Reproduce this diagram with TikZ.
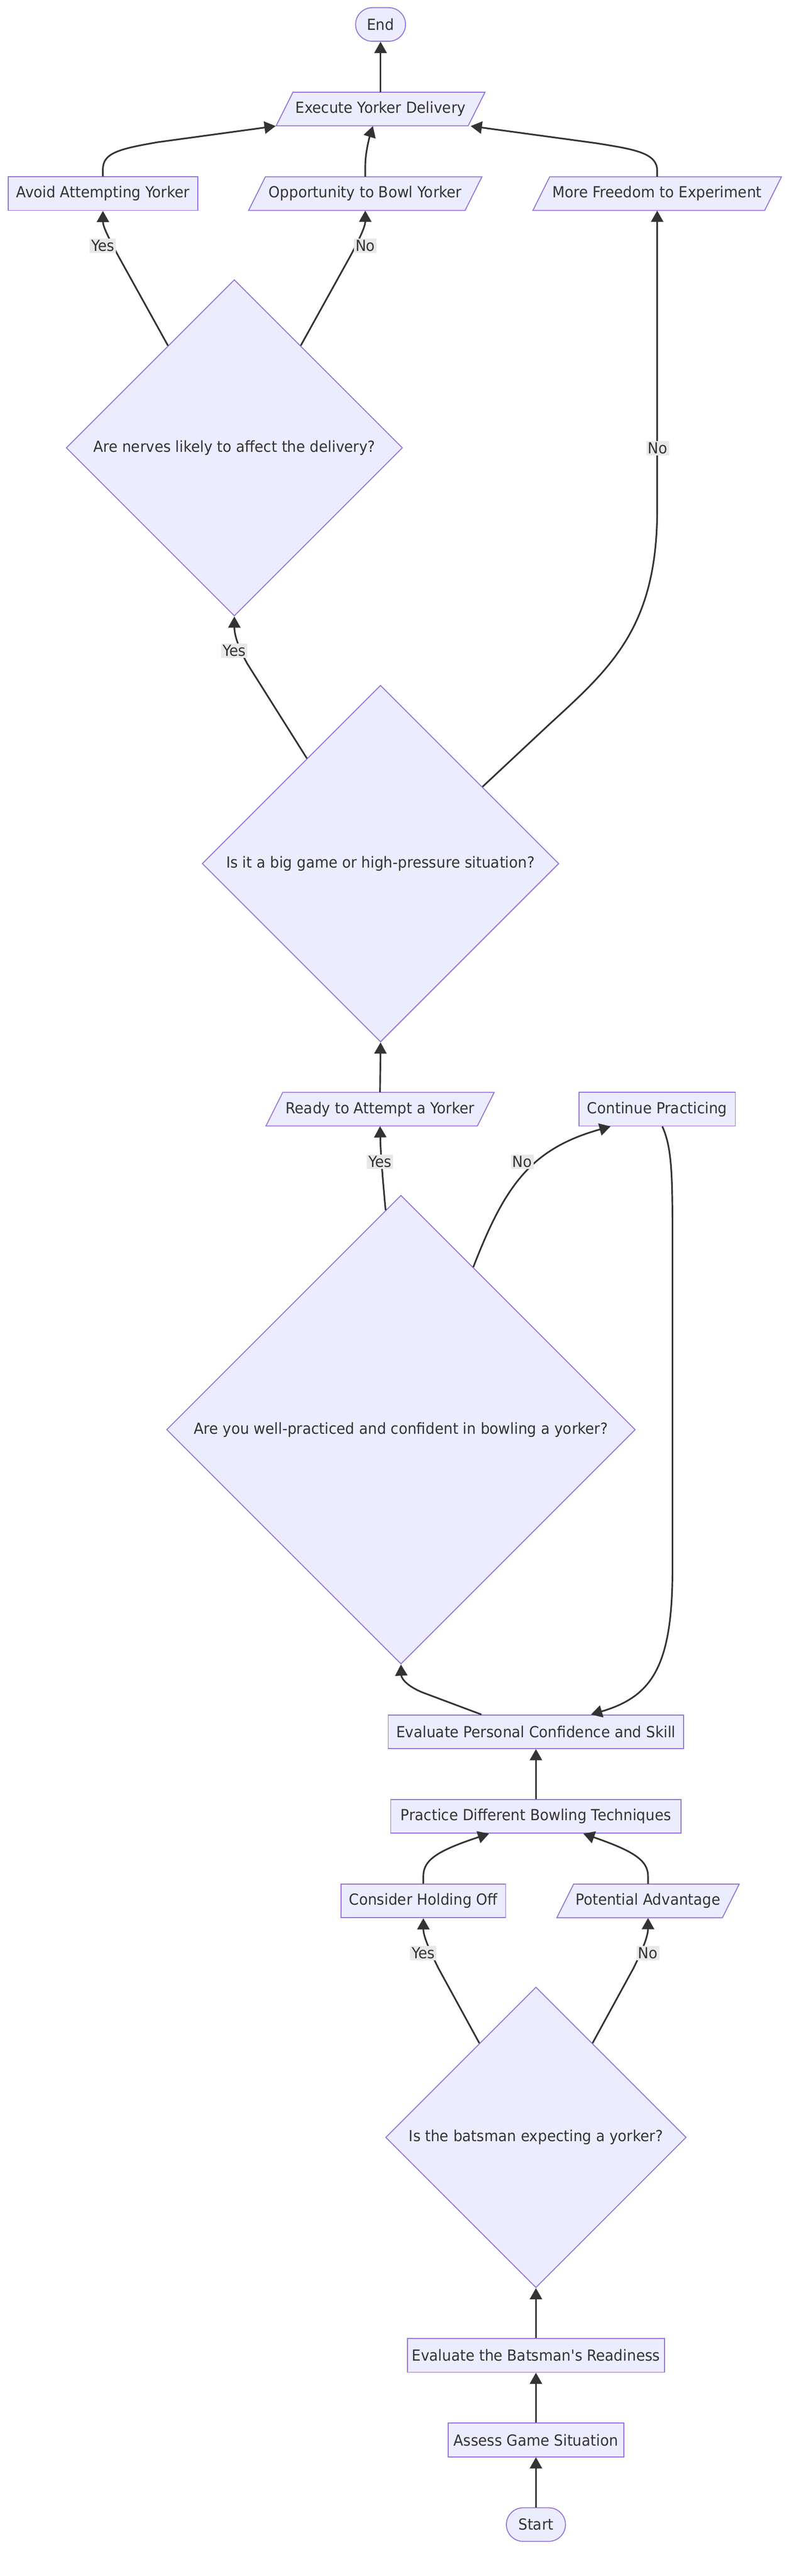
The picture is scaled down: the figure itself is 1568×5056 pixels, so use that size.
\documentclass[tikz,border=0pt]{standalone}
\usepackage{fontspec}
\setmainfont{DejaVu Sans}[Ligatures=TeXOff, FakeStretch=0.94]
\usetikzlibrary{shapes.geometric,arrows.meta,calc}
\definecolor{nfill}{HTML}{ECECFF}
\definecolor{nline}{HTML}{9370DB}
\definecolor{eline}{HTML}{333333}
\definecolor{lblbg}{HTML}{E8E8E8}
\definecolor{txt}{HTML}{333333}
\tikzset{
  box/.style={rectangle, draw=nline, fill=nfill, line width=0.9pt, minimum height=33pt, inner sep=0pt},
  stad/.style={box, rounded corners=16.5pt},
  dia/.style={diamond, aspect=1, draw=nline, fill=nfill, line width=0.9pt, inner sep=0pt},
  paratext/.style={rectangle, inner sep=0pt, minimum height=33pt},
  parashape/.style={draw=nline, fill=nfill, line width=0.9pt},
  arr/.style={draw=eline, line width=1.6pt, -{Triangle[length=11pt,width=12pt]}},
  lbl/.style={fill=lblbg, inner sep=1.5pt, text=txt}
}
\newcommand\paranode[5]{%
  \draw[parashape] (#2-#4+16.5,#3-33) -- (#2+#4+16.5,#3-33) -- (#2+#4-16.5,#3+33) -- (#2-#4-16.5,#3+33) -- cycle;
  \node[paratext, minimum width=#4*1pt] (#1) at (#2,#3) {#5};
}
\begin{document}
\begin{tikzpicture}[x=0.5pt, y=-0.5pt, font=\fontsize{15pt}{18pt}\selectfont, text=txt]
\useasboundingbox (0,0) rectangle (1568,5056);
\fill[white] (0,0) rectangle (1568,5056);

% nodes
\node[stad, minimum width=49pt] (end) at (747,48) {End};
\paranode{exec}{747}{214}{188.5}{Execute Yorker Delivery}
\node[box, minimum width=186pt] (avoid) at (202,380) {Avoid Attempting Yorker};
\paranode{opp}{717}{380}{212.5}{Opportunity to Bowl Yorker}
\paranode{more}{1290}{380}{227.5}{More Freedom to Experiment}
\node[dia, minimum size=330pt] (nerves) at (460,879) {Are nerves likely to affect the delivery?};
\node[dia, minimum size=350pt] (big) at (747,1695) {Is it a big game or high-pressure situation?};
\paranode{ready}{746}{2177}{207.5}{Ready to Attempt a Yorker}
\node[box, minimum width=153.5pt] (cont) at (1290,2177) {Continue Practicing};
\node[dia, minimum size=460pt] (well) at (787,2806) {Are you well-practiced and confident in bowling a yorker?};
\node[box, minimum width=290pt] (evalP) at (1052,3399) {Evaluate Personal Confidence and Skill};
\node[box, minimum width=285pt] (prac) at (1052,3565) {Practice Different Bowling Techniques};
\node[box, minimum width=161.5pt] (cons) at (831,3731) {Consider Holding Off};
\paranode{pot}{1272}{3731}{162.5}{Potential Advantage}
\node[dia, minimum size=295pt] (bats) at (1052,4195) {Is the batsman expecting a yorker?};
\node[box, minimum width=252.5pt] (evalB) at (1052,4623) {Evaluate the Batsman's Readiness};
\node[box, minimum width=172.5pt] (assess) at (1052,4789) {Assess Game Situation};
\node[stad, minimum width=58pt] (start) at (1052,4955) {Start};

% connectors
\draw[arr] (start.north) -- (assess.south);
\draw[arr] (assess.north) -- (evalB.south);
\draw[arr] (evalB.north) -- (bats.south);
\draw[arr] (bats.121) -- (860,3862) .. controls (842,3825) and (831,3800) .. (cons.south);
\draw[arr] (bats.59) -- (1244,3862) .. controls (1262,3825) and (1272,3800) .. (pot.south);
\draw[arr] (cons.north) -- (831,3682) .. controls (831,3650) and (860,3632) .. ($(prac.south)+(-92,0)$);
\draw[arr] (pot.north) -- (1272,3682) .. controls (1272,3650) and (1240,3632) .. ($(prac.south)+(93,0)$);
\draw[arr] (prac.north) -- (evalP.south);
\draw[arr] ($(evalP.north)+(-107,0)$) -- (830,3322) .. controls (800,3310) and (788,3295) .. (well.south);
\draw[arr] (well.94) .. controls (750,2300) and (747,2260) .. (ready.south);
\draw[arr] (well.66) .. controls (990,2330) and (1040,2255) .. ($(cont.south west)+(63,0)$);
\draw[arr] ($(cont.south)+(10,0)$) .. controls (1318,2250) and (1320,2300) .. (1320,2420) -- (1320,3080) .. controls (1320,3270) and (1280,3330) .. ($(evalP.north)+(108,0)$);
\draw[arr] (ready.north) -- (big.south);
\draw[arr] (big.125) -- (485,1302) .. controls (472,1278) and (460,1250) .. (nerves.south);
\draw[arr] (big.37) -- (1080,1420) .. controls (1200,1310) and (1290,1230) .. (1290,1000) -- (more.south);
\draw[arr] (nerves.123) -- (232,502) .. controls (215,470) and (202,445) .. (avoid.south);
\draw[arr] (nerves.57) -- (688,502) .. controls (705,470) and (717,445) .. (opp.south);
\draw[arr] (avoid.north) -- (202,332) .. controls (202,300) and (235,292) .. (310,279) -- ($(exec.south west)+(-17,0)$);
\draw[arr] (opp.north) -- (717,325) .. controls (717,300) and (725,270) .. ($(exec.south)+(-15,0)$);
\draw[arr] (more.north) -- (1290,335) .. controls (1290,300) and (1245,293) .. (1170,281) -- ($(exec.south east)+(-12,0)$);
\draw[arr] (exec.north) -- (end.south);

% edge labels
\node[lbl] (l1) at (831,3833) {Yes};
\node[lbl] (l2) at (1272,3833) {No};
\node[lbl] (l3) at (746,2280) {Yes};
\node[lbl] (l4) at (1025,2280) {No};
\node[lbl] (l5) at (460,1277) {Yes};
\node[lbl] (l6) at (1291,880) {No};
\node[lbl] (l7) at (202,482) {Yes};
\node[lbl] (l8) at (717,482) {No};
\end{tikzpicture}
\end{document}
